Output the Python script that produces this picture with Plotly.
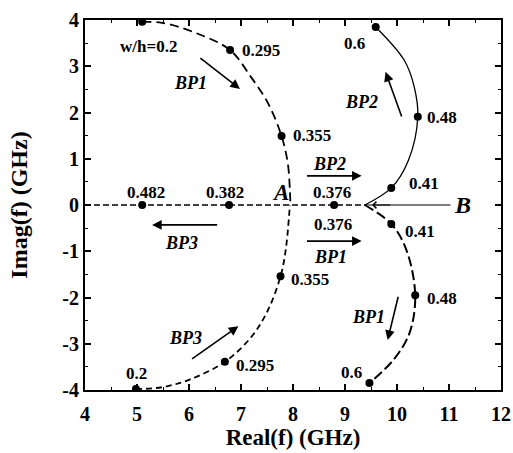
import plotly.graph_objects as go

# ---- data ----
# BP1 upper-left branch (w/h from 0.2 to ~0.37)
bp1_up_x = [5.10, 5.48, 6.13, 6.79, 7.19, 7.52, 7.78, 7.90, 7.94, 7.95]
bp1_up_y = [3.96, 3.94, 3.72, 3.35, 2.77, 2.20, 1.49, 0.90, 0.32, 0.00]
# BP3 lower-left branch
bp3_lo_x = [4.98, 5.48, 6.00, 6.69, 7.20, 7.52, 7.76, 7.86, 7.94]
bp3_lo_y = [-3.98, -3.94, -3.78, -3.39, -2.85, -2.27, -1.54, -0.97, 0.00]
# real-axis branch (dashed)
real_x = [4.00, 5.10, 6.77, 8.79, 9.38]
real_y = [0, 0, 0, 0, 0]
# BP2 upper-right branch (solid)
bp2_up_x = [9.38, 9.89, 10.22, 10.40, 10.33, 10.14, 9.59]
bp2_up_y = [0.00, 0.37, 0.97, 1.91, 2.56, 3.13, 3.85]
# BP1 lower-right branch (dashed)
bp1_lo_x = [9.38, 9.89, 10.18, 10.35, 10.24, 9.93, 9.47]
bp1_lo_y = [0.00, -0.41, -0.97, -1.95, -2.77, -3.35, -3.85]
# line from B to the branch point
b_x = [9.38, 11.03]
b_y = [0, 0]

# marked points (w/h values)
mark_x = [5.10, 6.79, 7.78, 4.98, 6.69, 7.76, 5.10, 6.77, 8.79,
          9.89, 10.40, 9.59, 9.89, 10.35, 9.47]
mark_y = [3.96, 3.35, 1.49, -3.98, -3.39, -1.54, 0, 0, 0,
          0.37, 1.91, 3.85, -0.41, -1.95, -3.85]

# value labels: text, x, y, anchor
labels = [
    ("w/h=0.2", 5.22, 3.42, "center"),
    ("0.295", 6.98, 3.35, "left"),
    ("0.355", 7.97, 1.51, "left"),
    ("0.6", 9.19, 3.50, "center"),
    ("0.48", 10.54, 1.90, "left"),
    ("0.41", 10.20, 0.47, "left"),
    ("0.482", 5.18, 0.26, "center"),
    ("0.382", 6.70, 0.26, "center"),
    ("0.376", 8.75, 0.26, "center"),
    ("0.376", 8.77, -0.43, "center"),
    ("0.41", 10.12, -0.58, "left"),
    ("0.355", 7.93, -1.62, "left"),
    ("0.48", 10.54, -2.03, "left"),
    ("0.6", 9.13, -3.63, "center"),
    ("0.295", 6.87, -3.46, "left"),
    ("0.2", 4.99, -3.65, "center"),
]
# branch names: text, x, y
bp_labels = [
    ("BP1", 6.03, 2.64),
    ("BP2", 9.32, 2.23),
    ("BP2", 8.70, 0.89),
    ("BP3", 5.86, -0.82),
    ("BP1", 8.72, -1.12),
    ("BP1", 9.46, -2.42),
    ("BP3", 5.94, -2.88),
]
# arrows: (x_tail, y_tail, x_head, y_head)
arrows = [
    (6.19, 3.20, 6.98, 2.51),
    (10.10, 1.88, 9.78, 2.88),
    (8.24, 0.63, 9.32, 0.63),
    (6.57, -0.43, 5.29, -0.43),
    (8.24, -0.78, 9.32, -0.78),
    (10.03, -1.95, 9.82, -2.92),
    (6.03, -3.35, 6.95, -2.62),
]
x_ticks = [4, 5, 6, 7, 8, 9, 10, 11, 12]
y_ticks = [-4, -3, -2, -1, 0, 1, 2, 3, 4]

FONT = "Liberation Serif"

fig = go.Figure()
line_common = dict(mode="lines", hoverinfo="skip", showlegend=False)
fig.add_trace(go.Scatter(x=bp1_up_x, y=bp1_up_y, line=dict(color="black", width=1.8, dash="9px,5px", shape="spline"), **line_common))
fig.add_trace(go.Scatter(x=bp3_lo_x, y=bp3_lo_y, line=dict(color="black", width=1.8, dash="6px,4px", shape="spline"), **line_common))
fig.add_trace(go.Scatter(x=real_x, y=real_y, line=dict(color="black", width=1.5, dash="6px,3px"), **line_common))
fig.add_trace(go.Scatter(x=bp2_up_x, y=bp2_up_y, line=dict(color="black", width=1.3, shape="spline"), **line_common))
fig.add_trace(go.Scatter(x=bp1_lo_x, y=bp1_lo_y, line=dict(color="black", width=2, dash="10px,4px", shape="spline"), **line_common))
fig.add_trace(go.Scatter(x=b_x, y=b_y, line=dict(color="black", width=1.0), **line_common))
fig.add_trace(go.Scatter(x=mark_x, y=mark_y, mode="markers", marker=dict(color="black", size=8),
                         hoverinfo="skip", showlegend=False))

for t, x, y, anc in labels:
    fig.add_annotation(x=x, y=y, text=t, showarrow=False, xanchor=anc, yanchor="middle",
                       font=dict(family=FONT, size=17, color="black", weight="bold"))
for t, x, y in bp_labels:
    fig.add_annotation(x=x, y=y, text="<i>" + t + "</i>", showarrow=False,
                       font=dict(family=FONT, size=18, color="black", weight="bold"))
for xt, yt, xh, yh in arrows:
    fig.add_annotation(x=xh, y=yh, ax=xt, ay=yt, axref="x", ayref="y", xref="x", yref="y",
                       text="", showarrow=True, arrowhead=2, arrowsize=1.2, arrowwidth=1.6,
                       arrowcolor="black")
# arrow on the B line
fig.add_annotation(x=9.52, y=0, ax=9.9, ay=0, axref="x", ayref="y", text="", showarrow=True,
                   arrowhead=4, arrowsize=1.3, arrowwidth=1.0, arrowcolor="black")
fig.add_annotation(x=7.75, y=0.26, text="<i>A</i>", showarrow=False,
                   font=dict(family=FONT, size=23, color="black", weight="bold"))
fig.add_annotation(x=11.26, y=0.0, text="<i>B</i>", showarrow=False,
                   font=dict(family=FONT, size=24, color="black", weight="bold"))

axis_common = dict(showline=True, linecolor="black", linewidth=2, mirror="ticks",
                   ticks="inside", ticklen=6, tickwidth=1.5, tickcolor="black",
                   showgrid=False, zeroline=False, ticklabeloverflow="allow",
                   tickfont=dict(family=FONT, size=20, color="black", weight="bold"),
                   minor=dict(ticks="inside", ticklen=3, tickwidth=1, tickcolor="black", dtick=0.5))
fig.update_xaxes(range=[4, 12], tickvals=x_ticks, ticktext=[str(v) for v in x_ticks],
                 ticklabelstandoff=5,
                 title=dict(text="Real(f) (GHz)", standoff=3,
                            font=dict(family=FONT, size=23, color="black", weight="bold")),
                 **axis_common)
fig.update_yaxes(range=[-4, 4], tickvals=y_ticks, ticktext=[str(v) for v in y_ticks],
                 title=dict(text="Imag(f) (GHz)", standoff=28,
                            font=dict(family=FONT, size=24, color="black", weight="bold")),
                 **axis_common)
fig.update_layout(width=513, height=453, margin=dict(l=85, r=12, t=20, b=63, autoexpand=False),
                  plot_bgcolor="white", paper_bgcolor="white")
fig.write_html("out.html")
